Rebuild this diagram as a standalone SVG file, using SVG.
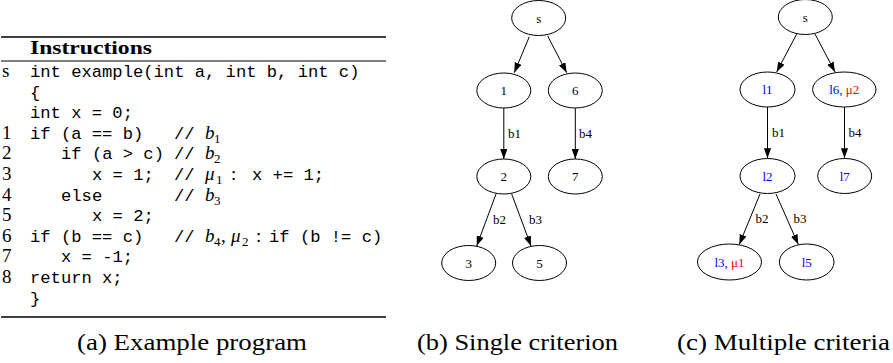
<svg xmlns="http://www.w3.org/2000/svg" width="893" height="363" viewBox="0 0 893 363">
<style>
.code{font-family:"Liberation Mono",monospace;font-size:17.17px;fill:#000}
.num{font-family:"Liberation Serif",serif;font-size:19px;fill:#000}
.rm{font-family:"Liberation Serif",serif;font-size:19px;fill:#000}
.mi{font-family:"Liberation Serif",serif;font-style:italic;font-size:19px;fill:#000}
.sub{font-family:"Liberation Serif",serif;font-size:13px;fill:#000}
.hdr{font-family:"Liberation Serif",serif;font-weight:bold;font-size:19px;fill:#000}
.cap{font-family:"Liberation Serif",serif;font-size:24px;fill:#000}
.rule{stroke:#000}
.nd ellipse{fill:none;stroke:#000;stroke-width:1}
.nd text{font-family:"Liberation Serif",serif;font-size:13px;text-anchor:middle;fill:#000}
.nd .b{fill:#0000ff}
.nd .r{fill:#ff0000}
.el{font-family:"Liberation Serif",serif;font-size:13px;fill:#000}
.edges line{stroke:#000;stroke-width:1;marker-end:url(#arr)}
</style>
<defs>
<marker id="arr" markerUnits="userSpaceOnUse" markerWidth="10" markerHeight="8" refX="10" refY="3.6" orient="auto">
<path d="M0,0 L10,3.6 L0,7.2 z" fill="#000"/>
</marker>
</defs>

<g id="table">
<line class="rule" x1="1" y1="37" x2="386" y2="37" stroke-width="1.6"/>
<text class="hdr" x="30" y="54" textLength="122" lengthAdjust="spacingAndGlyphs">Instructions</text>
<line class="rule" x1="1" y1="61" x2="386" y2="61" stroke-width="1"/>
<line class="rule" x1="1" y1="317" x2="386" y2="317" stroke-width="1.6"/>

<text class="num" x="2" y="77">s</text>
<text class="code" x="30" y="77">int example(int a, int b, int c)</text>
<text class="code" x="30" y="97.6">{</text>
<text class="code" x="30" y="118.2">int x = 0;</text>

<text class="num" x="2" y="138.8">1</text>
<text class="code" x="30" y="138.8">if (a == b)</text>
<text class="code" x="174" y="138.8">//</text>
<text class="mi" x="205" y="138.8">b</text><text class="sub" x="214" y="142.8">1</text>

<text class="num" x="2" y="159.4">2</text>
<text class="code" x="61" y="159.4">if (a &gt; c)</text>
<text class="code" x="174" y="159.4">//</text>
<text class="mi" x="205" y="159.4">b</text><text class="sub" x="214" y="163.4">2</text>

<text class="num" x="2" y="180">3</text>
<text class="code" x="92" y="180">x = 1;</text>
<text class="code" x="174" y="180">//</text>
<text class="mi" x="205" y="180">μ</text><text class="sub" x="216" y="184">1</text>
<text class="rm" x="231" y="180">:</text>
<text class="code" x="252" y="180">x += 1;</text>

<text class="num" x="2" y="200.6">4</text>
<text class="code" x="61" y="200.6">else</text>
<text class="code" x="174" y="200.6">//</text>
<text class="mi" x="205" y="200.6">b</text><text class="sub" x="214" y="204.6">3</text>

<text class="num" x="2" y="221.2">5</text>
<text class="code" x="92" y="221.2">x = 2;</text>

<text class="num" x="2" y="241.8">6</text>
<text class="code" x="30" y="241.8">if (b == c)</text>
<text class="code" x="174" y="241.8">//</text>
<text class="mi" x="205" y="241.8">b</text><text class="sub" x="214" y="245.8">4</text>
<text class="rm" x="221" y="241.8">,</text>
<text class="mi" x="231" y="241.8">μ</text><text class="sub" x="242" y="245.8">2</text>
<text class="rm" x="256" y="241.8">:</text>
<text class="code" x="269" y="241.8">if (b != c)</text>

<text class="num" x="2" y="262.4">7</text>
<text class="code" x="61" y="262.4">x = -1;</text>

<text class="num" x="2" y="283">8</text>
<text class="code" x="30" y="283">return x;</text>
<text class="code" x="30" y="303.6">}</text>
</g>

<g id="captions">
<text class="cap" x="77" y="350" textLength="230" lengthAdjust="spacingAndGlyphs">(a) Example program</text>
<text class="cap" x="417" y="350" textLength="201" lengthAdjust="spacingAndGlyphs">(b) Single criterion</text>
<text class="cap" x="677" y="350" textLength="213" lengthAdjust="spacingAndGlyphs">(c) Multiple criteria</text>
</g>

<g id="b-s" class="nd"><ellipse cx="538.7" cy="18" rx="27" ry="17.5"/><text x="538.7" y="22.5">s</text></g>
<g id="b-1" class="nd"><ellipse cx="503.8" cy="90.5" rx="27" ry="17.5"/><text x="503.8" y="95">1</text></g>
<g id="b-6" class="nd"><ellipse cx="575.3" cy="90.5" rx="27" ry="17.5"/><text x="575.3" y="95">6</text></g>
<g id="b-2" class="nd"><ellipse cx="503.8" cy="176.5" rx="27" ry="17.5"/><text x="503.8" y="181">2</text></g>
<g id="b-7" class="nd"><ellipse cx="575.3" cy="176.5" rx="27" ry="17.5"/><text x="575.3" y="181">7</text></g>
<g id="b-3" class="nd"><ellipse cx="468.7" cy="263" rx="27" ry="17.5"/><text x="468.7" y="267.5">3</text></g>
<g id="b-5" class="nd"><ellipse cx="539.5" cy="263" rx="27" ry="17.5"/><text x="539.5" y="267.5">5</text></g>

<g id="c-s" class="nd"><ellipse cx="805.3" cy="17" rx="27" ry="17.5"/><text x="805.3" y="21.5">s</text></g>
<g id="c-l1" class="nd"><ellipse cx="767.5" cy="89.5" rx="27.5" ry="17.5"/><text x="767.5" y="94" class="b">l1</text></g>
<g id="c-l6" class="nd"><ellipse cx="844.3" cy="89.5" rx="31.7" ry="17.5"/><text x="844.3" y="94"><tspan class="b">l6, </tspan><tspan class="r">μ2</tspan></text></g>
<g id="c-l2" class="nd"><ellipse cx="767.5" cy="176" rx="27.5" ry="17.5"/><text x="767.5" y="180.5" class="b">l2</text></g>
<g id="c-l7" class="nd"><ellipse cx="844.7" cy="176" rx="27" ry="17.5"/><text x="844.7" y="180.5" class="b">l7</text></g>
<g id="c-l3" class="nd"><ellipse cx="729.5" cy="262" rx="32" ry="18"/><text x="729.5" y="266.5"><tspan class="b">l3, </tspan><tspan class="r">μ1</tspan></text></g>
<g id="c-l5" class="nd"><ellipse cx="806.7" cy="262" rx="27.3" ry="18"/><text x="806.7" y="266.5" class="b">l5</text></g>

<g id="connectors" class="edges">
<line x1="529.3" y1="36.7" x2="514.3" y2="72.7"/>
<line x1="547.7" y1="36" x2="566.7" y2="72.7"/>
<line x1="503.8" y1="108" x2="503.8" y2="159"/>
<line x1="575.3" y1="108" x2="575.3" y2="159"/>
<line x1="496" y1="194" x2="476.7" y2="246"/>
<line x1="511.7" y1="194" x2="531" y2="246"/>
<line x1="796.7" y1="34" x2="776.7" y2="72"/>
<line x1="815" y1="34" x2="835" y2="72"/>
<line x1="767.5" y1="107" x2="767.5" y2="158.3"/>
<line x1="844.5" y1="107" x2="844.5" y2="158.3"/>
<line x1="760" y1="194" x2="739.3" y2="244.5"/>
<line x1="776" y1="194" x2="798.3" y2="244.5"/>
</g>
<g id="edge-labels">
<text class="el" x="508" y="138">b1</text>
<text class="el" x="579" y="138">b4</text>
<text class="el" x="493" y="224">b2</text>
<text class="el" x="529" y="224">b3</text>
<text class="el" x="772" y="137">b1</text>
<text class="el" x="848.5" y="137">b4</text>
<text class="el" x="755.5" y="223">b2</text>
<text class="el" x="793.5" y="223">b3</text>
</g>
</svg>
